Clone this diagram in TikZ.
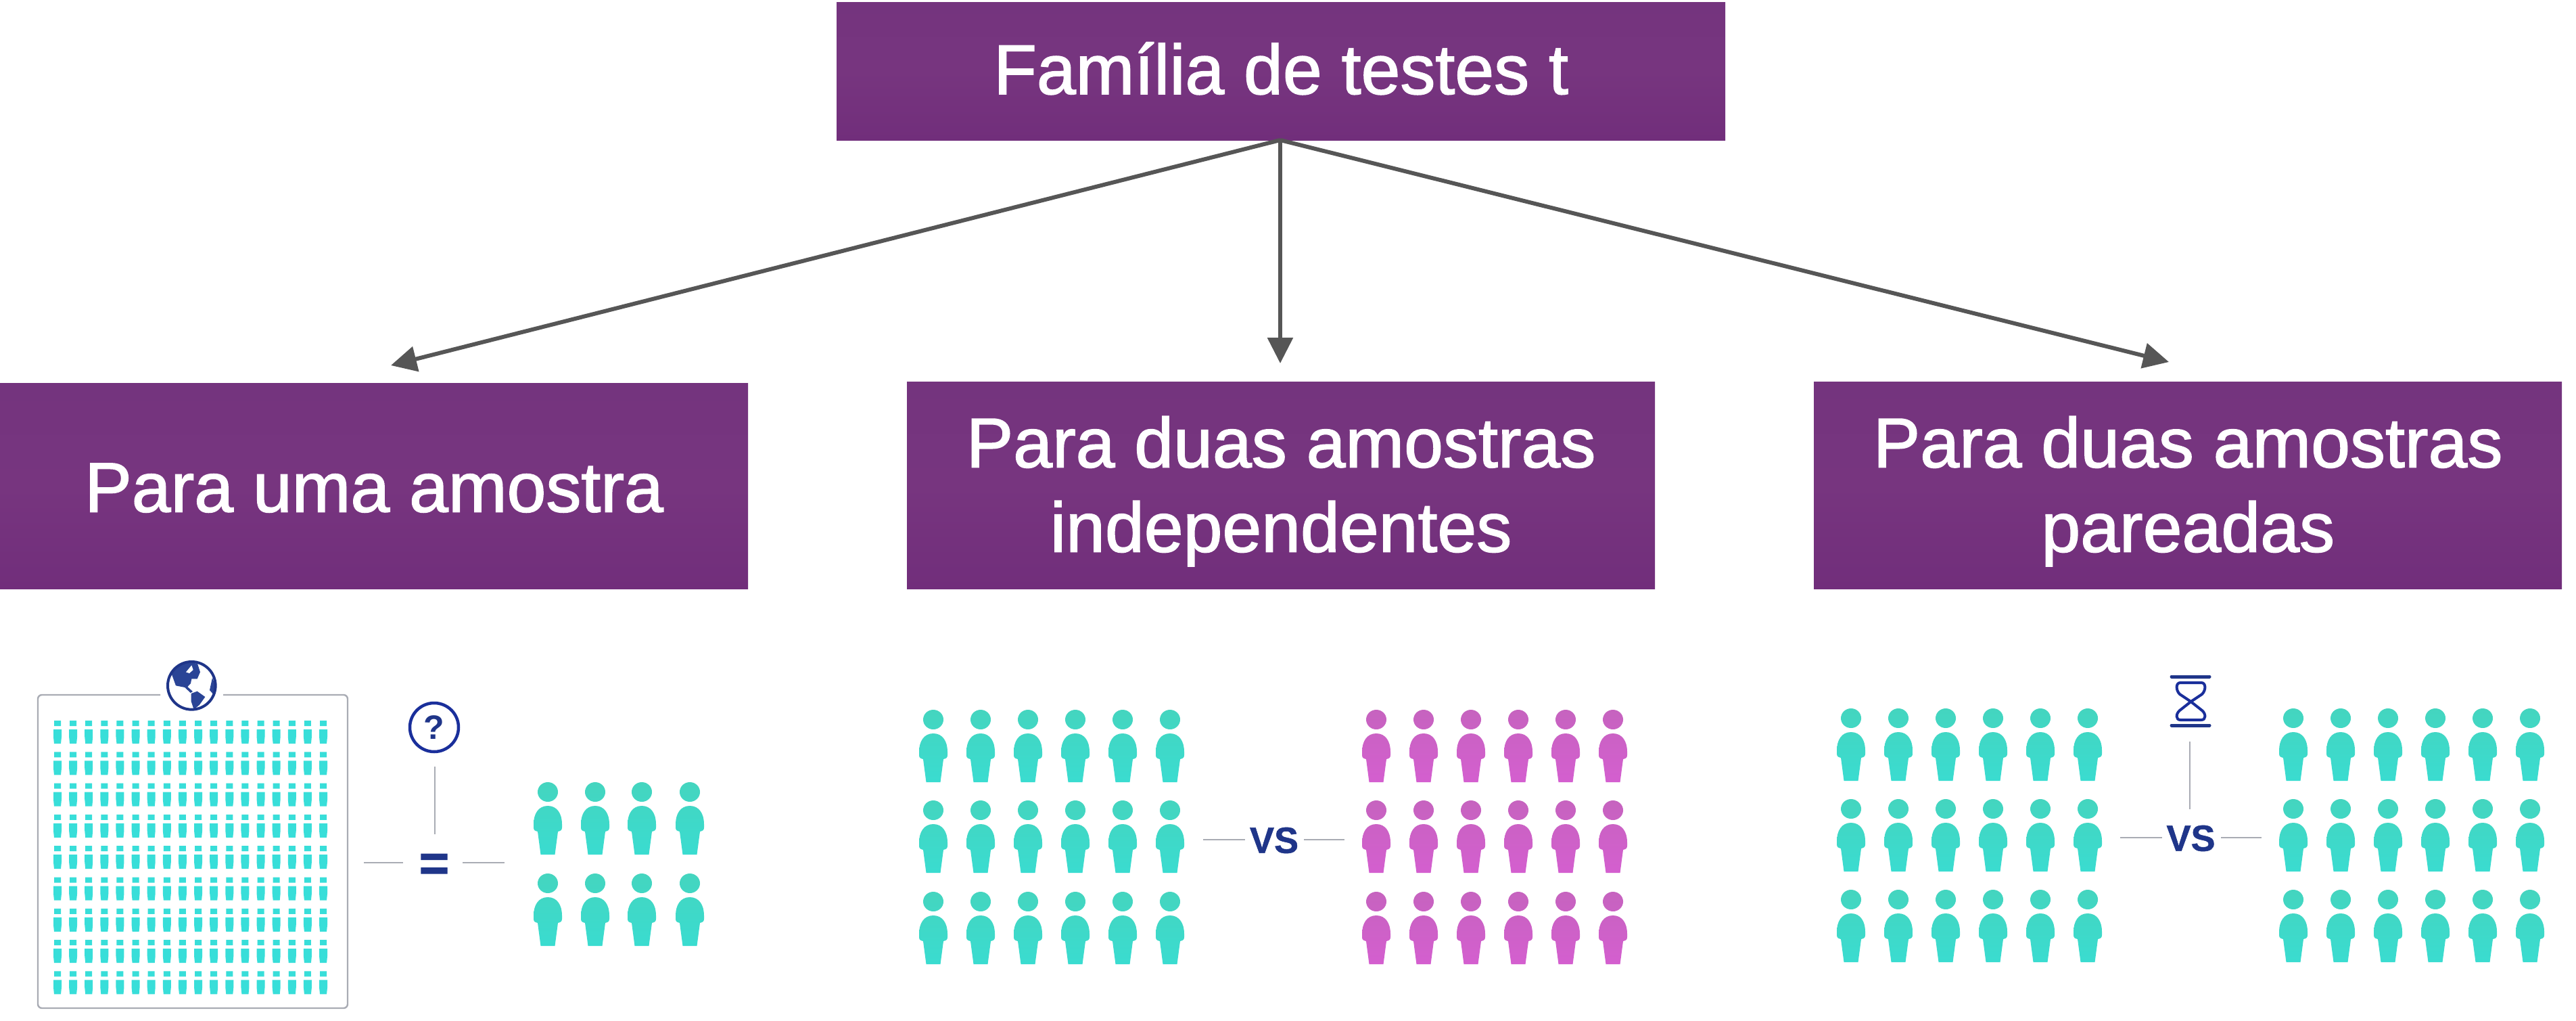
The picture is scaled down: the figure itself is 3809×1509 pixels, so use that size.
\documentclass[tikz,border=0pt]{standalone}
\usepackage{fontspec}
\setmainfont{Liberation Sans}
\usetikzlibrary{arrows.meta}
\definecolor{boxtop}{HTML}{74347E}
\definecolor{boxmid}{HTML}{77357F}
\definecolor{boxbot}{HTML}{712E7B}
\definecolor{tealtop}{HTML}{44D5BF}
\definecolor{tealbot}{HTML}{3ADCD0}
\definecolor{magtop}{HTML}{C663BF}
\definecolor{magbot}{HTML}{D45FCF}
\definecolor{cyanp}{HTML}{38DED9}
\definecolor{navy}{HTML}{1F3589}
\definecolor{ringblue}{HTML}{1A2F9B}
\definecolor{globeblue}{HTML}{2A4496}
\definecolor{greyline}{HTML}{A9ACB4}
\definecolor{arrowgrey}{HTML}{565656}
\newcommand{\lowered}[2]{\raisebox{-#1pt}[\height][\depth]{#2}}
\tikzset{
  purplebox/.style={anchor=north west, inner sep=0pt, text=white, align=center,
    top color=boxtop, bottom color=boxbot, middle color=boxmid,
    font=\fontsize{104}{125}\selectfont\addfontfeature{FakeBold=1.5}},
  arrowline/.style={draw=arrowgrey, line width=6pt, -{Triangle[width=37pt,length=38pt]}},
  thinline/.style={draw=greyline, line width=2.4pt},
  tealfill/.style={top color=tealtop, bottom color=tealbot},
  magfill/.style={top color=magtop, bottom color=magbot},
  person/.pic={
    \path[pic actions]
      (0,14.5) ellipse [x radius=15, y radius=14.5]
      (0,35) .. controls (-14,35) and (-21,47) .. (-21,62) -- (-21,67)
      .. controls (-21,71) and (-19,72) .. (-15,73)
      -- (-10.5,107) -- (10.5,107) -- (15,73)
      .. controls (19,72) and (21,71) .. (21,67) -- (21,62)
      .. controls (21,47) and (14,35) .. (0,35) -- cycle;
  },
  tinyperson/.pic={
    \path[fill=cyanp]
      (-5,1) rectangle (5,9)
      (-6,14) -- (6,14) -- (6,25) -- (5,35) -- (-5,35) -- (-6,25) -- cycle;
  },
  vstext/.style={text=navy, inner sep=0pt, font=\fontsize{54}{54}\selectfont\bfseries\addfontfeature{FakeBold=1}},
}
\begin{document}
\begin{tikzpicture}[x=1pt,y=-1pt]
\useasboundingbox[fill=white] (0,0) rectangle (3809,1509);

% header boxes
\node[purplebox, minimum width=1314pt, minimum height=204pt] (top) at (1237,3) {\lowered{-4}{Família de testes t}};
\node[purplebox, minimum width=1106pt, minimum height=304pt] (one) at (0,566) {\lowered{3}{Para uma amostra}};
\node[purplebox, minimum width=1106pt, minimum height=306pt] (two) at (1341,564) {\lowered{9}{Para duas amostras}\\\lowered{9}{independentes}};
\node[purplebox, minimum width=1106pt, minimum height=306pt] (three) at (2682,564) {\lowered{9}{Para duas amostras}\\\lowered{9}{pareadas}};

% arrows
\coordinate (tipone) at (578,540);
\coordinate (tiptwo) at (1893,537);
\coordinate (tipthree) at (3207,535);
\coordinate (src) at (1893,207);
\draw[arrowline] (src) -- (tipone);
\draw[arrowline] (src) -- (tiptwo);
\draw[arrowline] (src) -- (tipthree);

% panel 1: population frame
\draw[greyline, line width=2.4pt, rounded corners=6pt]
  (237,1027) -- (56,1027) -- (56,1490) -- (514,1490) -- (514,1027) -- (330,1027);
\foreach \r in {0,...,8} \foreach \c in {0,...,17}
  \pic at ({85+23.12*\c},{1064+46.3*\r}) {tinyperson};

% globe
\begin{scope}[shift={(220,960)}, x=0.3333pt, y=-0.3333pt]
  \fill[globeblue] (100,105) -- (120,160) -- (160,168) -- (185,192) -- (195,186) -- (172,165)
     -- (186,150) -- (190,130) -- (215,130) -- (228,100) -- (216,62) -- (185,58) -- (160,55) -- (125,72) -- cycle;
  \fill[white] (165,100) -- (190,70) -- (197,90) -- (180,105) -- cycle;
  \fill[globeblue] (188,195) -- (215,185) -- (250,210) -- (225,245) -- (200,266) -- (188,230) -- cycle;
  \fill[globeblue] (282,125) -- (270,180) -- (285,197) -- (298,165) -- cycle;
  \draw[navy, line width=4pt] (190,160) circle [radius=106];
\end{scope}

% question mark and equals
\node[draw=ringblue, line width=4.5pt, circle, minimum size=72pt, inner sep=0pt,
      text=navy, font=\fontsize{50}{50}\selectfont\bfseries] (quest) at (642,1075) {?};
\node[text=navy, inner sep=0pt, font=\fontsize{76}{76}\selectfont\bfseries\addfontfeature{FakeBold=1.5}] (equal) at (642,1282) {=};
\coordinate (qa) at (643,1133); \coordinate (qb) at (643,1233);
\coordinate (ea) at (538,1275); \coordinate (eb) at (596,1275);
\coordinate (ec) at (684,1275); \coordinate (ed) at (746,1275);
\draw[thinline] (qa) -- (qb);
\draw[thinline] (ea) -- (eb);
\draw[thinline] (ec) -- (ed);
\foreach \y in {1156,1291} \foreach \x in {810,880,949,1020}
  \pic[tealfill] at (\x,\y) {person};

% panel 2
\foreach \y in {1049,1183,1318} \foreach \c in {0,...,5} {
  \pic[tealfill] at ({1380+70*\c},\y) {person};
  \pic[magfill] at ({2035+70*\c},\y) {person};
}
\node[vstext] (vstwo) at (1884,1242) {VS};
\coordinate (va) at (1779,1241); \coordinate (vb) at (1841,1241);
\coordinate (vc) at (1928,1241); \coordinate (vd) at (1988,1241);
\draw[thinline] (va) -- (vb);
\draw[thinline] (vc) -- (vd);

% panel 3
\foreach \y in {1047,1181,1315} \foreach \c in {0,...,5} {
  \pic[tealfill] at ({2737+70*\c},\y) {person};
  \pic[tealfill] at ({3391+70*\c},\y) {person};
}
\node[vstext] (vsthree) at (3239.5,1239) {VS};
\coordinate (wa) at (3135,1238); \coordinate (wb) at (3197,1238);
\coordinate (wc) at (3284,1238); \coordinate (wd) at (3344,1238);
\coordinate (wt) at (3238,1096); \coordinate (wu) at (3238,1196);
\draw[thinline] (wa) -- (wb);
\draw[thinline] (wc) -- (wd);
\draw[thinline] (wt) -- (wu);

% hourglass
\draw[navy, line width=5pt, line cap=round] (3211,1000) -- (3267,1000);
\draw[navy, line width=5pt, line cap=round] (3211,1072) -- (3267,1072);
\draw[ringblue, line width=4pt, line join=round]
  (3224,1009) -- (3255,1009) .. controls (3262,1009) and (3262,1020) .. (3256,1026)
  -- (3239.5,1037) -- (3256,1050) .. controls (3262,1055) and (3262,1064) .. (3255,1064)
  -- (3224,1064) .. controls (3217,1064) and (3217,1055) .. (3223,1050)
  -- (3239.5,1037) -- (3223,1026) .. controls (3217,1020) and (3217,1009) .. (3224,1009) -- cycle;
\end{tikzpicture}
\end{document}
